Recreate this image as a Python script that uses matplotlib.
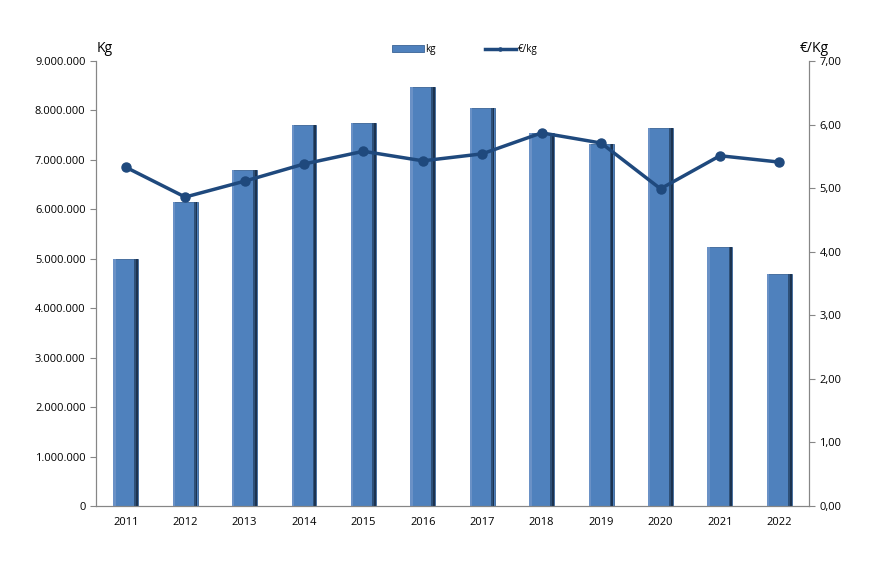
import matplotlib.pyplot as plt
import matplotlib.ticker as mticker
import numpy

years = ["2011", "2012", "2013", "2014", "2015", "2016",
         "2017", "2018", "2019", "2020", "2021", "2022"]
kg = [5000000, 6150000, 6800000, 7710000, 7750000, 8480000,
      8050000, 7540000, 7320000, 7650000, 5240000, 4690000]
eur_kg = [5.33, 4.86, 5.11, 5.38, 5.58, 5.43,
          5.54, 5.87, 5.71, 4.99, 5.51, 5.41]

def dotted(v, pos):
    return f"{int(v):,}".replace(",", ".")

def comma(v, pos):
    return f"{v:.2f}".replace(".", ",")

plt.rcParams['font.family'] = ['Open Sans', 'DejaVu Sans']

fig = plt.figure(figsize=(8.94, 5.65), dpi=100)
ax = fig.add_axes([0.1074, 0.1044, 0.7976, 0.7876])
ax2 = ax.twinx()

x = numpy.arange(len(years))
w = 0.42
bars = ax.bar(x, kg, width=w, color="#4F81BD", edgecolor="#3A6396", linewidth=0.6, label="kg", zorder=2)
# darker shading on the right edge and light one on the left
ax.bar(x + w / 2 - 0.045, kg, width=0.04, color="#2E5078", linewidth=0, zorder=3)
ax.bar(x + w / 2 - 0.02, kg, width=0.03, color="#1C3350", linewidth=0, zorder=3)
ax.bar(x - w / 2 + 0.02, kg, width=0.04, color="#6A91C6", linewidth=0, zorder=3)

line, = ax2.plot(x, eur_kg, color="#1F497D", linewidth=2.5, marker="o", markersize=6.5, label="€/kg", zorder=4)

ax.set_xlim(-0.5, len(years) - 0.5)
ax.set_ylim(0, 9000000)
ax.yaxis.set_major_locator(mticker.MultipleLocator(1000000))
ax.yaxis.set_major_formatter(mticker.FuncFormatter(dotted))
ax2.set_ylim(0, 7)
ax2.yaxis.set_major_locator(mticker.MultipleLocator(1))
ax2.yaxis.set_major_formatter(mticker.FuncFormatter(comma))

ax.set_xticks(x)
ax.set_xticklabels(years)

for a in (ax, ax2):
    a.spines["top"].set_visible(False)
    for s in ("left", "right", "bottom"):
        a.spines[s].set_color("#868686")
    a.tick_params(labelsize=8, color="#868686", length=4)
ax.tick_params(axis="x", length=0, pad=8)
ax2.set_zorder(ax.get_zorder() + 1)
ax2.patch.set_visible(False)

fig.text(0.1085, 0.9, "Kg", fontsize=10, ha="left", va="bottom")
fig.text(0.895, 0.9, "€/Kg", fontsize=10, ha="left", va="bottom")

fig.legend([bars, line], ["kg", "€/kg"], loc="center", bbox_to_anchor=(0.52, 0.912),
           ncol=2, frameon=False, fontsize=7, handlelength=3.2, columnspacing=5,
           handletextpad=0.2, markerscale=0.35)

plt.savefig("out.png", dpi=100)
